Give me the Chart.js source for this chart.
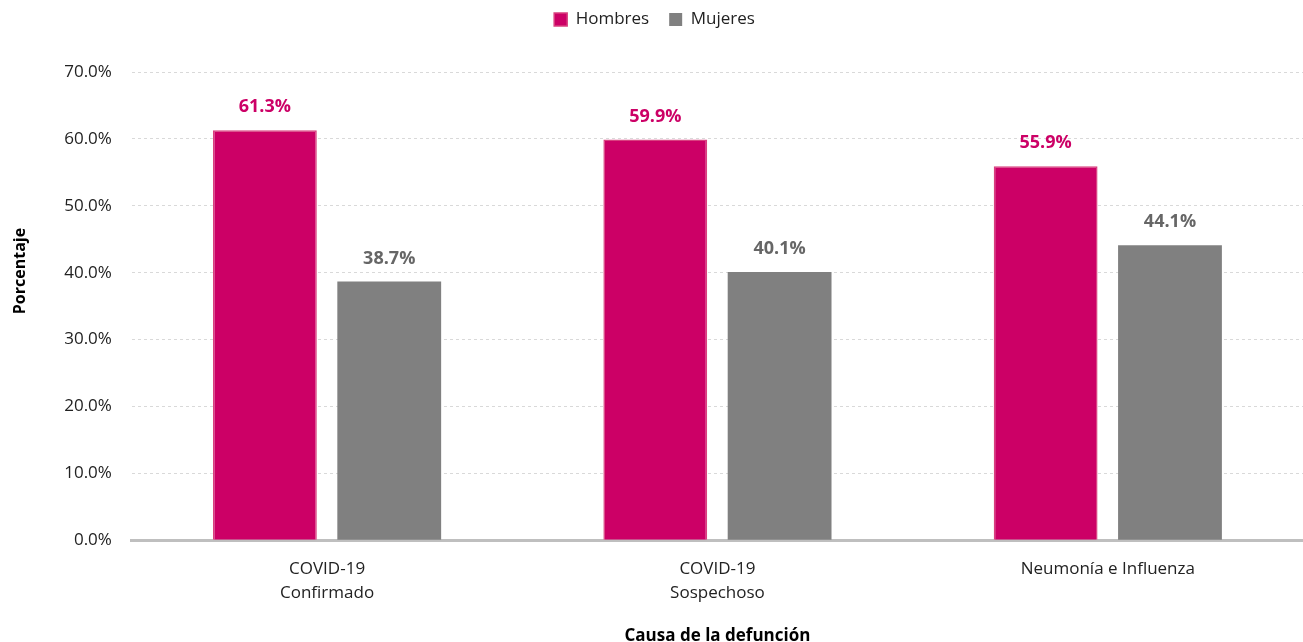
<!DOCTYPE html>
<html><head><meta charset="utf-8">
<script src="https://cdn.jsdelivr.net/npm/chart.js@4/dist/chart.umd.min.js"></script>
<style>html,body{margin:0;padding:0;background:#fff}#wrap{width:1303px;height:642px}</style>
</head><body><div id="wrap"><canvas id="c" width="1303" height="642"></canvas></div>
<script>
const categories = [["COVID-19","Confirmado"],["COVID-19","Sospechoso"],"Neumonía e Influenza"];
const hombres = [61.3, 59.9, 55.9];
const mujeres = [38.7, 40.1, 44.1];
const yTicks = [0,10,20,30,40,50,60,70];

const FONT = "'Open Sans', 'Noto Sans', sans-serif";
const labelPlugin = {
  id:'valueLabels',
  afterDatasetsDraw(chart){
    const ctx = chart.ctx;
    chart.data.datasets.forEach((ds,i)=>{
      const meta = chart.getDatasetMeta(i);
      meta.data.forEach((bar,j)=>{
        ctx.save();
        ctx.font = "bold 18px " + FONT;
        ctx.fillStyle = ds.labelColor;
        ctx.textAlign='center';
        ctx.textBaseline='middle';
        ctx.fillText(ds.data[j].toFixed(1)+'%', bar.x, bar.y-23);
        ctx.restore();
      });
    });
  }
};
const legendMargin = {
  id:'legendMargin',
  beforeInit(chart){
    const orig = chart.legend.fit;
    chart.legend.fit = function(){ orig.bind(chart.legend)(); this.height += 34; };
  }
};
// y-axis title drawn slightly above the axis centre, as in the original
const yTitlePlugin = {
  id:'yTitle',
  afterDraw(chart){
    const ctx = chart.ctx, a = chart.chartArea, ys = chart.scales.y;
    ctx.save();
    ctx.font = "bold 16px " + FONT;
    ctx.fillStyle = '#000';
    ctx.textAlign = 'center'; ctx.textBaseline = 'middle';
    ctx.translate(ys.left + 14, a.top + (a.bottom - a.top) * 0.425);
    ctx.rotate(-Math.PI/2);
    ctx.fillText('Porcentaje', 0, 0);
    ctx.restore();
  }
};

new Chart(document.getElementById('c'),{
  type:'bar',
  data:{labels:categories,datasets:[
    {label:'Hombres',data:hombres,backgroundColor:'#cc0066',borderColor:'#d9407f',borderWidth:1.5,labelColor:'#cc0066',categoryPercentage:0.637,barPercentage:0.835},
    {label:'Mujeres',data:mujeres,backgroundColor:'#808080',borderColor:'#808080',borderWidth:0,labelColor:'#666666',categoryPercentage:0.637,barPercentage:0.835}
  ]},
  options:{
    responsive:false,animation:false,
    layout:{padding:{left:6,right:0,top:-9,bottom:-4}},
    plugins:{
      legend:{position:'top',labels:{font:{family:FONT,size:17},color:'#222',boxWidth:13,boxHeight:13,padding:20}},
      tooltip:{enabled:false}
    },
    scales:{
      x:{grid:{display:false,drawTicks:false},border:{color:'#bfbfbf',width:3},
         ticks:{font:{family:FONT,size:17,lineHeight:1.42},color:'#222',padding:17},
         title:{display:true,text:'Causa de la defunción',font:{family:FONT,size:17,weight:'bold'},color:'#000',padding:{top:3,bottom:0}}},
      y:{min:0,max:70,afterBuildTicks(ax){ax.ticks=yTicks.map(v=>({value:v}));},
         grid:{color:'#d9d9d9',lineWidth:1,drawTicks:false},border:{display:false,dash:[3,3]},
         ticks:{font:{family:FONT,size:17},color:'#222',padding:20,callback:v=>v.toFixed(1)+'%'},
         title:{display:true,text:'Porcentaje',font:{family:FONT,size:16,weight:'bold'},color:'rgba(0,0,0,0)',padding:{top:5,bottom:14}}}
    }
  },
  plugins:[labelPlugin, legendMargin, yTitlePlugin]
});
</script></body></html>
